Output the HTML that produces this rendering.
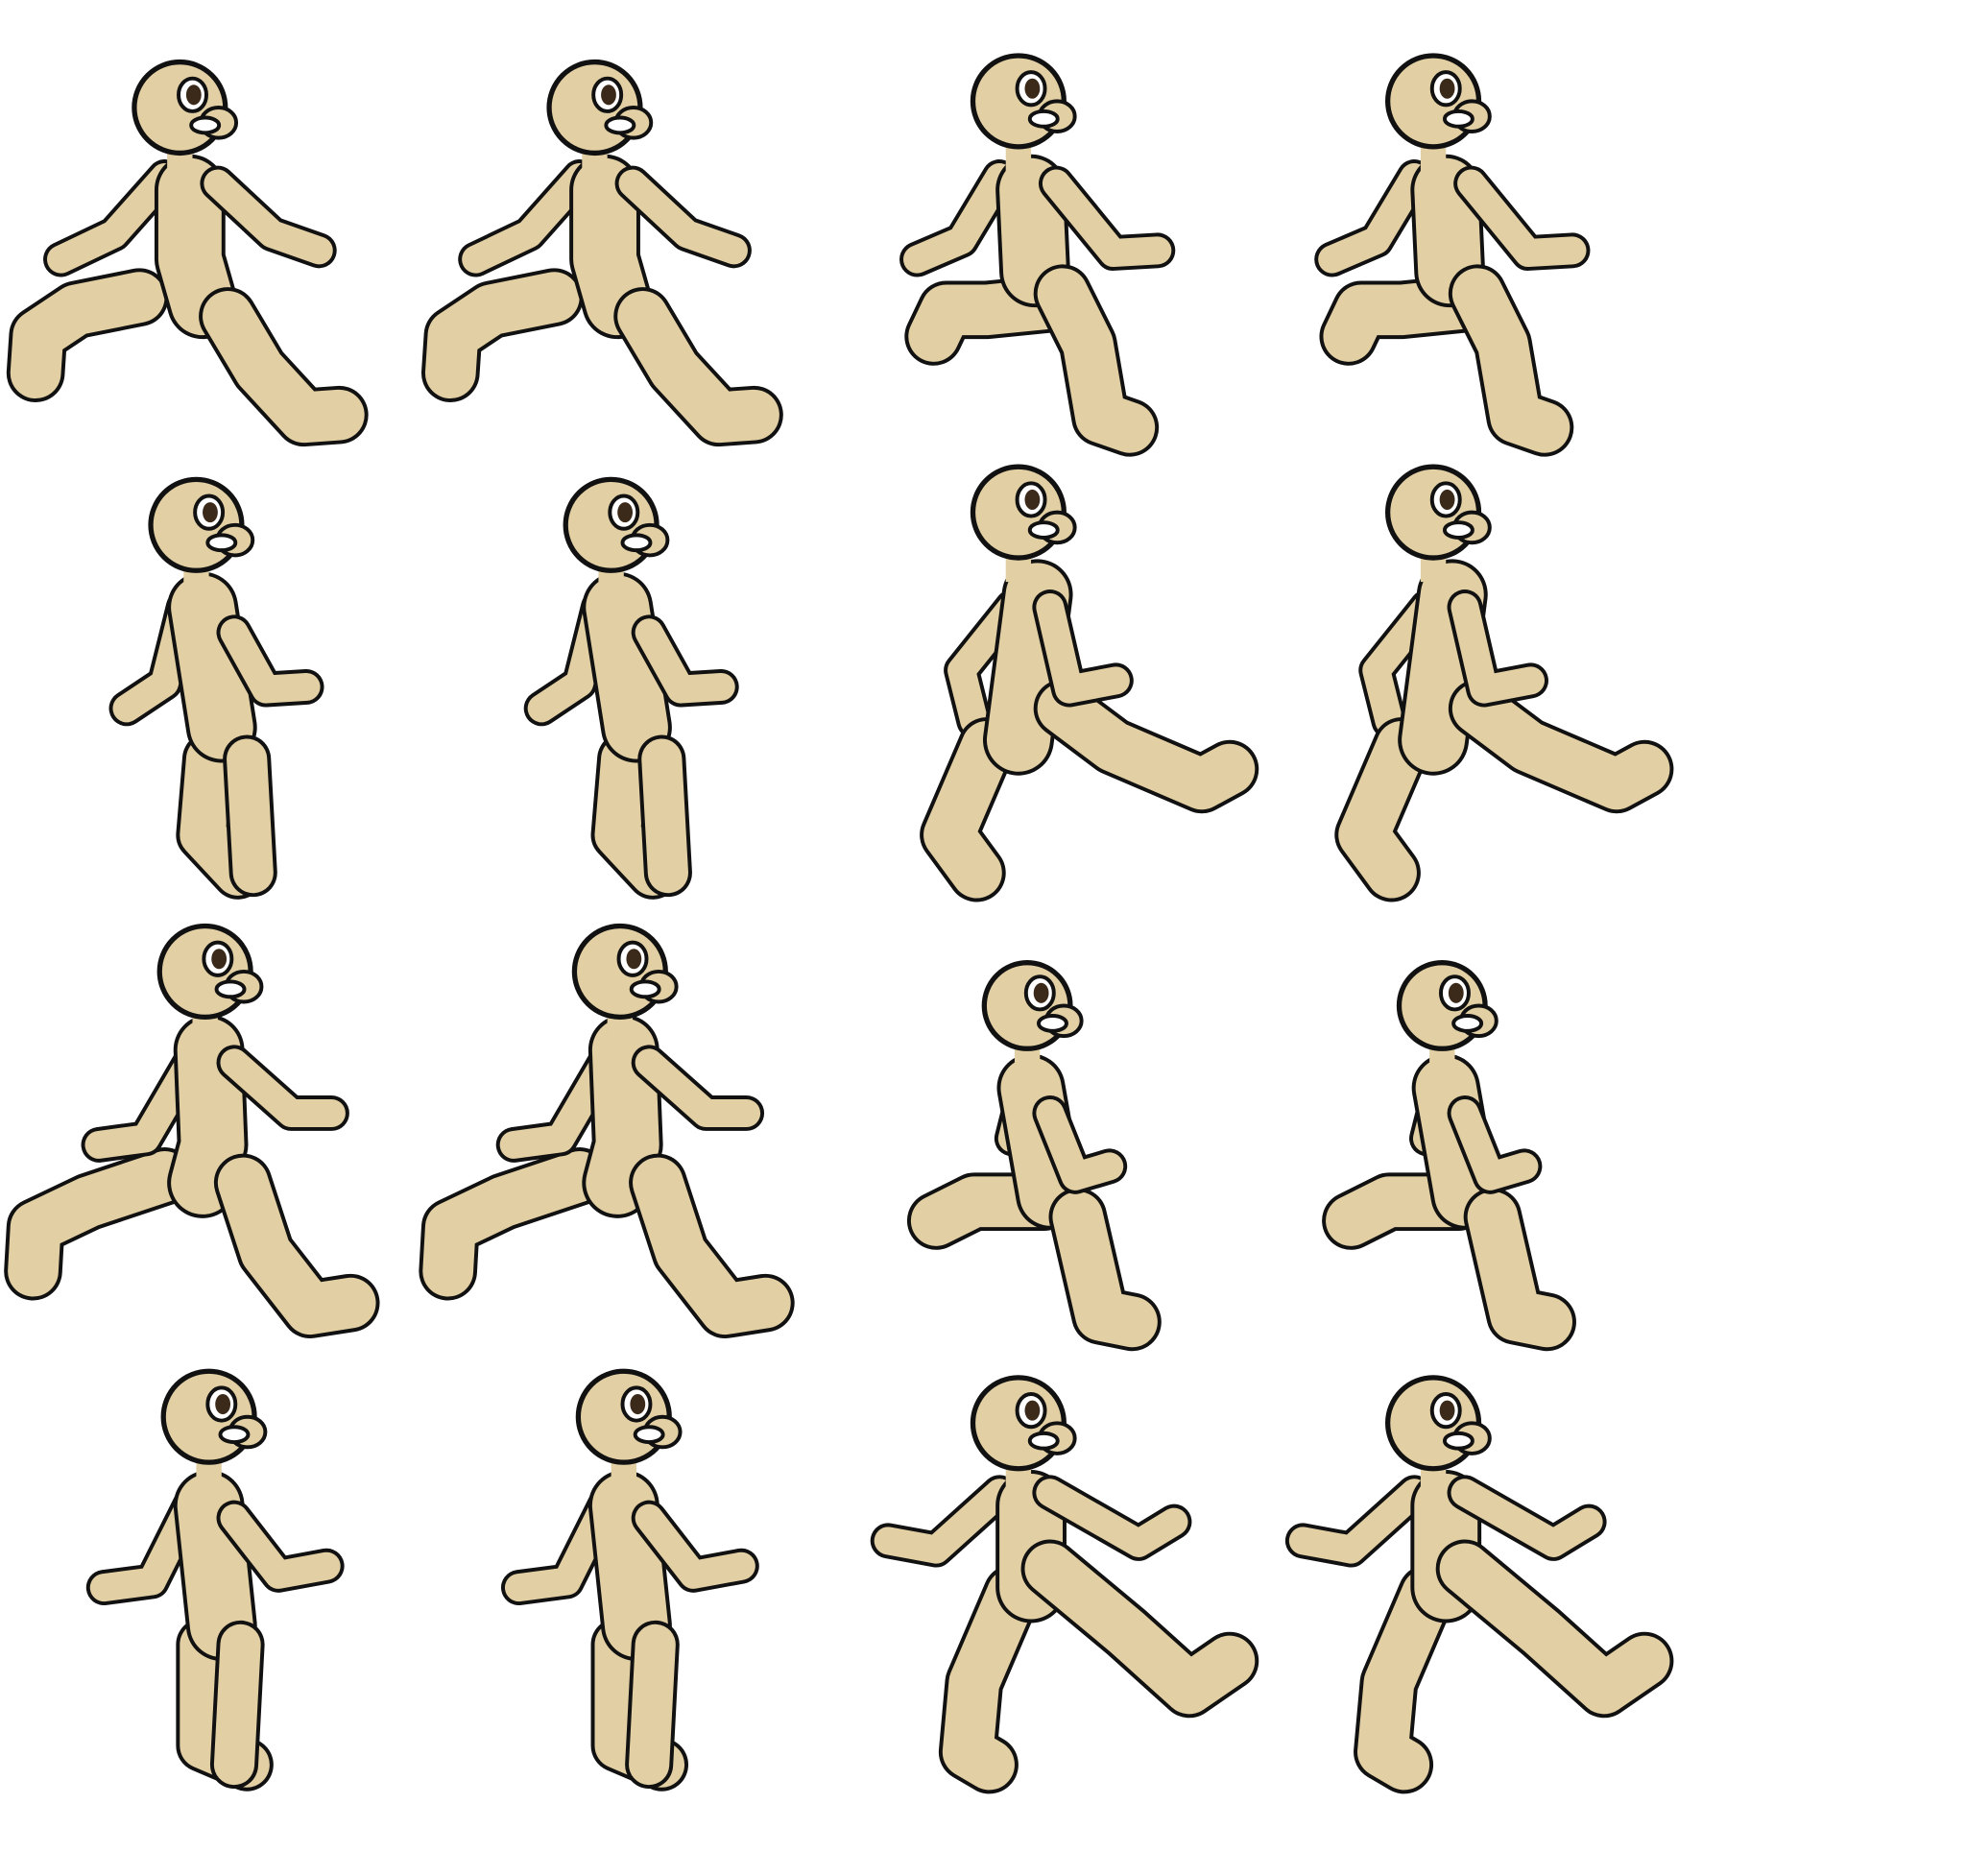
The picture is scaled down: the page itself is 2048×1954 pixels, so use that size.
<!DOCTYPE html>
<html><head><meta charset="utf-8"><style>
html,body{margin:0;padding:0;background:#fff;}
svg{display:block;}
</style></head>
<body>
<svg id="sheet" width="2048" height="1954" viewBox="0 0 1554 1483" xmlns="http://www.w3.org/2000/svg"></svg>
<script>
const NS="http://www.w3.org/2000/svg";
const FILL="#e2cfa3", INK="#111";
// poses: head [x,y,r], limbs [width, points], drawn back-to-front
const poses=[
 {name:"pose-stride-a",head:[142,85,36],limbs:[
  [40,[[110,235],[60,245],[30,265],[28,295]]],
  [22,[[130,140],[90,185],[48,205]]],
  [50,[[150,150],[150,205],[160,240]]],
  [40,[[180,250],[205,292],[240,330],[268,328]]],
  [22,[[172,145],[215,185],[252,198]]]]},
 {name:"pose-passing-a",head:[805,80,36],limbs:[
  [40,[[830,240],[780,245],[748,245],[738,266]]],
  [22,[[790,140],[760,190],[725,205]]],
  [50,[[815,150],[818,215]]],
  [40,[[840,232],[860,272],[870,330],[893,338]]],
  [22,[[835,145],[880,200],[915,198]]]]},
 {name:"pose-contact-a",head:[155,415,36],limbs:[
  [22,[[145,480],[130,540],[100,560]]],
  [36,[[165,600],[160,660],[188,690]]],
  [50,[[160,480],[175,575]]],
  [32,[[195,600],[200,690]]],
  [22,[[185,500],[210,545],[242,543]]]]},
 {name:"pose-stride-b",head:[805,405,36],limbs:[
  [22,[[800,480],[760,530],[770,570]]],
  [40,[[780,590],[750,660],[772,690]]],
  [50,[[820,470],[805,585]]],
  [40,[[840,560],[880,590],[950,620],[972,608]]],
  [22,[[830,480],[845,545],[882,538]]]]},
 {name:"pose-stride-c",head:[162,768,36],limbs:[
  [40,[[130,930],[70,950],[28,970],[26,1005]]],
  [22,[[150,840],[115,900],[78,905]]],
  [50,[[165,830],[168,905],[160,935]]],
  [40,[[192,935],[210,990],[245,1035],[277,1030]]],
  [22,[[185,840],[230,880],[262,880]]]]},
 {name:"pose-passing-b",head:[812,795,34],limbs:[
  [40,[[825,950],[770,950],[740,965]]],
  [22,[[810,860],[800,900]]],
  [48,[[815,860],[830,945]]],
  [40,[[852,962],[870,1040],[895,1045]]],
  [22,[[830,880],[850,930],[877,922]]]]},
 {name:"pose-contact-b",head:[165,1120,36],limbs:[
  [22,[[150,1190],[120,1250],[82,1255]]],
  [36,[[160,1300],[160,1380],[195,1395]]],
  [50,[[165,1190],[175,1285]]],
  [32,[[190,1300],[185,1395]]],
  [22,[[185,1200],[220,1245],[258,1238]]]]},
 {name:"pose-stride-d",head:[805,1125,36],limbs:[
  [40,[[800,1260],[770,1330],[765,1385],[782,1395]]],
  [22,[[790,1180],[740,1225],[702,1218]]],
  [50,[[815,1190],[815,1255]]],
  [40,[[830,1240],[890,1290],[940,1335],[972,1313]]],
  [22,[[830,1180],[900,1220],[928,1203]]]]}
];
const offsets=[0,328];
const svg=document.getElementById("sheet");
function mk(tag,attrs,parent){const e=document.createElementNS(NS,tag);for(const k in attrs)e.setAttribute(k,attrs[k]);parent.appendChild(e);return e;}
poses.forEach((p,pi)=>{
 offsets.forEach((dx,ci)=>{
  const g=mk("g",{transform:"translate("+dx+",0)"},svg);
  
  
  p.limbs.forEach(l=>{
   const d="M"+l[1].map(q=>q[0]+" "+q[1]).join(" L");
   const o=mk("path",{d:d,fill:"none",stroke:INK,"stroke-width":l[0]+6,"stroke-linecap":"round","stroke-linejoin":"round"},g);
   
   
   const f=mk("path",{d:d,fill:"none",stroke:FILL,"stroke-width":l[0],"stroke-linecap":"round","stroke-linejoin":"round"},g);
   
   
  });
  const [hx,hy,hr]=p.head;
  const neck=mk("rect",{x:hx-10,y:hy+25,width:20,height:30,fill:FILL},g);
  
  
  const head=mk("circle",{cx:hx,cy:hy,r:hr,fill:FILL,stroke:INK,"stroke-width":4},g);
  
  
  const snout=mk("ellipse",{cx:hx+hr*0.85,cy:hy+12,rx:14,ry:12,fill:FILL,stroke:INK,"stroke-width":3},g);
  
  
  const eye=mk("ellipse",{cx:hx+10,cy:hy-10,rx:11,ry:13,fill:"#fff",stroke:INK,"stroke-width":3},g);
  
  
  const pupil=mk("ellipse",{cx:hx+11,cy:hy-10,rx:6,ry:8,fill:"#3b2a1a"},g);
  
  
  const mouth=mk("ellipse",{cx:hx+20,cy:hy+14,rx:11,ry:6,fill:"#fff",stroke:INK,"stroke-width":3},g);
  
  
 });
});
</script>
</body></html>
